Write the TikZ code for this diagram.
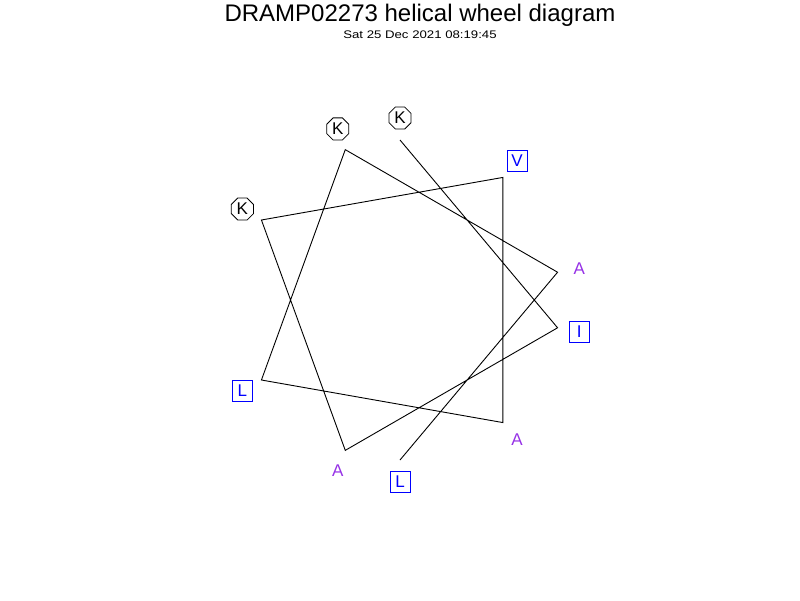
\documentclass[tikz,border=0pt]{standalone}
\usepackage{fontspec}
\setmainfont{Liberation Sans}
\usetikzlibrary{shapes.geometric}
\definecolor{hblue}{RGB}{0,0,255}
\definecolor{hpurple}{RGB}{150,50,230}
\tikzset{
  wheel/.style={draw=black, line width=0.9pt},
  oct/.style={regular polygon, regular polygon sides=8, draw=black, line width=0.8pt, minimum size=24pt, inner sep=0pt, font=\fontsize{17}{17}\selectfont},
  sq/.style={rectangle, draw=hblue, text=hblue, line width=0.9pt, minimum width=20pt, minimum height=21pt, inner sep=0pt, font=\fontsize{17}{17}\selectfont},
  plain/.style={text=hpurple, inner sep=0pt, font=\fontsize{17}{17}\selectfont},
  title/.style={font=\fontsize{24}{26}\selectfont},
  sub/.style={font=\fontsize{11}{12}\selectfont}
}
\begin{document}
\begin{tikzpicture}[x=1pt,y=-1pt]
\useasboundingbox (0,0) rectangle (800,600);
\node[title] (t) at (420,15) {DRAMP02273 helical wheel diagram};
\node[sub] (d) at (420,35) {\scalebox{1.2}[1]{Sat 25 Dec 2021 08:19:45}};
% vertices: center (400,300), radius 160, step 100 deg
\foreach \i in {1,...,10} {
  \pgfmathsetmacro{\ang}{(\i-1)*100}
  \coordinate (v\i) at ({400+160*sin(\ang)},{300-160*cos(\ang)});
  \coordinate (p\i) at ({400+182*sin(\ang)},{300-182*cos(\ang)});
}
\draw[wheel] (v1) -- (v2) -- (v3) -- (v4) -- (v5) -- (v6) -- (v7) -- (v8) -- (v9) -- (v10);
\node[oct] (r1) at (p1) {K};
\node[sq] (r2) at (p2) {I};
\node[plain] (r3) at (p3) {A};
\node[oct] (r4) at (p4) {K};
\node[sq] (r5) at (p5) {V};
\node[plain] (r6) at (p6) {A};
\node[sq] (r7) at (p7) {L};
\node[oct] (r8) at (p8) {K};
\node[plain] (r9) at (p9) {A};
\node[sq] (r10) at (p10) {L};
\end{tikzpicture}
\end{document}
